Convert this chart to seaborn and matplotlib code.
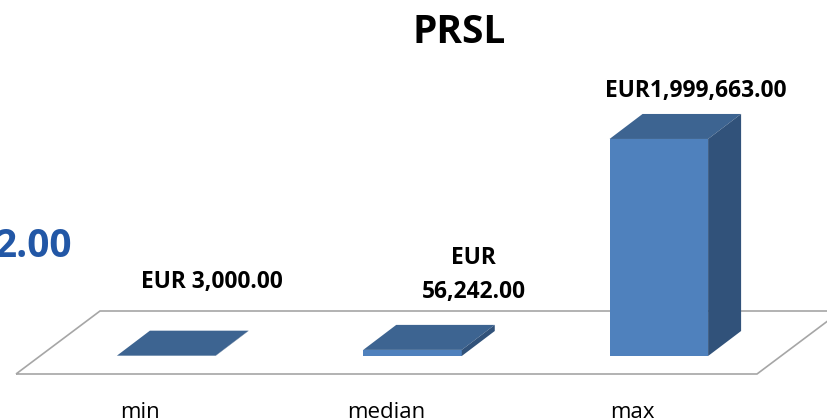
#3d-style bar chart of PRSL min / median / max
import seaborn as sns
import pandas as pd
import matplotlib.pyplot as plt
from matplotlib.patches import Polygon
from matplotlib.transforms import ScaledTranslation

categories = ["min", "median", "max"]
values = [3000.00, 56242.00, 1999663.00]
value_labels = ["EUR 3,000.00", "EUR\n56,242.00", "EUR1,999,663.00"]
title = "PRSL"

front = "#4F81BD"
top = "#3D6491"
side = "#31527A"
floor_col = "#A6A6A6"

sns.set_style("white")
plt.rcParams['font.family'] = ['Open Sans', 'DejaVu Sans']
plt.rcParams['text.color'] = "black"
plt.rcParams['xtick.color'] = "black"

df = pd.DataFrame({"stat": categories, "eur": values})

fig = plt.figure(figsize=(8.27, 4.18), dpi=100)
ax = fig.add_axes([43 / 827, 62 / 418, 739 / 827, 356 / 418])
ax.patch.set_visible(False)
sns.barplot(data=df, x="stat", y="eur", color=front, saturation=1, width=0.4,
            linewidth=0, ax=ax)
ax.set_xlim(-0.5, 2.5)
ax.set_ylim(0, 3.28e6)
sns.despine(ax=ax, left=True, bottom=True)
ax.set_yticks([])
ax.set_xlabel("")
ax.set_ylabel("")
ax.tick_params(axis="x", length=0, pad=33, labelsize=16, labelcolor="black")
# category names sit under the front of the floor, a bit left of the bars
for t in ax.get_xticklabels():
    t.set_transform(t.get_transform() + ScaledTranslation(-26 / 100, 0, fig.dpi_scale_trans))

# depth of the 3d look, in pixels
dx, dy = 33, 25

# floor (drawn in pixels around the baseline), on the figure below the axes
fx0, fy0 = ax.transData.transform((-0.5, 0))
fx1, _ = ax.transData.transform((2.5, 0))
fl = fx0 - 27
fr = fx1 - 25
fb = fy0 - 18
floor = Polygon([(fl, fb), (fr, fb), (fr + 84, fb + 63), (fl + 84, fb + 63)],
                closed=True, facecolor="none", edgecolor=floor_col, lw=1.2,
                transform=None, zorder=-1, clip_on=False)
fig.add_artist(floor)

for p in ax.patches[:len(values)]:
    p.set_zorder(3)
    (x0, y0), (x1, y1) = ax.transData.transform([(p.get_x(), p.get_y()),
                                                  (p.get_x() + p.get_width(), p.get_y() + p.get_height())])
    tp = Polygon([(x0, y1), (x1, y1), (x1 + dx, y1 + dy), (x0 + dx, y1 + dy)],
                 closed=True, facecolor=top, edgecolor="none", transform=None,
                 zorder=4, clip_on=False)
    sp = Polygon([(x1, y0), (x1, y1), (x1 + dx, y1 + dy), (x1 + dx, y0 + dy)],
                 closed=True, facecolor=side, edgecolor="none", transform=None,
                 zorder=4, clip_on=False)
    ax.add_artist(tp)
    ax.add_artist(sp)

# data labels (excel put them a bit right of each bar); offsets go to the last line's baseline
label_offsets = [(46, 68), (61, 52), (37, 42)]
for i, (v, lab) in enumerate(zip(values, value_labels)):
    ax.annotate(lab, xy=(i, v), xytext=label_offsets[i], textcoords="offset pixels",
                ha="center", va="baseline", fontsize=16.4, fontweight="bold",
                linespacing=1.55, annotation_clip=False, color="black")

fig.text(459 / 827, 1 - 43 / 418, title, ha="center", va="baseline",
         fontsize=28, fontweight="bold", color="black")
# stray label from the neighbouring chart
fig.text(72 / 827, 1 - 257 / 418, "2.00", ha="right", va="baseline",
         fontsize=28, fontweight="bold", color="#2257A6")

plt.savefig("out.png", dpi=100)
